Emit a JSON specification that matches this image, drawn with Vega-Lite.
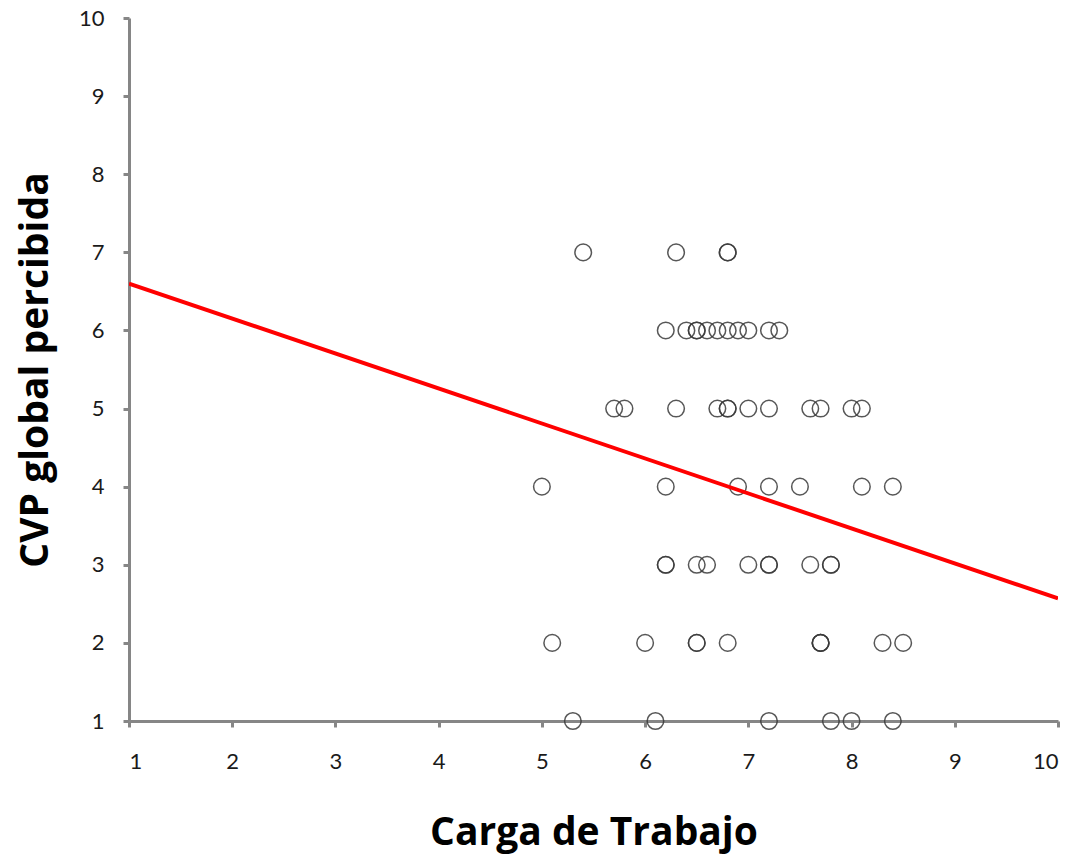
{
  "$schema": "https://vega.github.io/schema/vega-lite/v6.json",
  "width": 929,
  "height": 703,
  "autosize": {"type": "none"},
  "padding": {"left": 129, "top": 18, "right": 21, "bottom": 139},
  "background": "white",
  "config": {
    "view": {"stroke": null},
    "font": "Lato",
    "axis": {
      "grid": false,
      "domainColor": "#868686",
      "domainWidth": 3,
      "tickColor": "#868686",
      "tickWidth": 3,
      "tickSize": 6,
      "labelFont": "Lato",
      "labelFontSize": 22,
      "labelColor": "#1a1a1a",
      "titleFont": "Open Sans",
      "titleFontSize": 39,
      "titleFontWeight": "bold",
      "titleColor": "#000000",
      "titleBaseline": "alphabetic"
    }
  },
  "datasets": {
    "pts": [
      {"x": 5.4, "y": 7}, {"x": 6.3, "y": 7}, {"x": 6.8, "y": 7}, {"x": 6.8, "y": 7},
      {"x": 6.2, "y": 6}, {"x": 6.4, "y": 6}, {"x": 6.5, "y": 6}, {"x": 6.5, "y": 6}, {"x": 6.6, "y": 6}, {"x": 6.7, "y": 6}, {"x": 6.8, "y": 6}, {"x": 6.9, "y": 6}, {"x": 7.0, "y": 6}, {"x": 7.2, "y": 6}, {"x": 7.3, "y": 6},
      {"x": 5.7, "y": 5}, {"x": 5.8, "y": 5}, {"x": 6.3, "y": 5}, {"x": 6.7, "y": 5}, {"x": 6.8, "y": 5}, {"x": 6.8, "y": 5}, {"x": 7.0, "y": 5}, {"x": 7.2, "y": 5}, {"x": 7.6, "y": 5}, {"x": 7.7, "y": 5}, {"x": 8.0, "y": 5}, {"x": 8.1, "y": 5},
      {"x": 5.0, "y": 4}, {"x": 6.2, "y": 4}, {"x": 6.9, "y": 4}, {"x": 7.2, "y": 4}, {"x": 7.5, "y": 4}, {"x": 8.1, "y": 4}, {"x": 8.4, "y": 4},
      {"x": 6.2, "y": 3}, {"x": 6.2, "y": 3}, {"x": 6.5, "y": 3}, {"x": 6.6, "y": 3}, {"x": 7.0, "y": 3}, {"x": 7.2, "y": 3}, {"x": 7.2, "y": 3}, {"x": 7.6, "y": 3}, {"x": 7.8, "y": 3}, {"x": 7.8, "y": 3},
      {"x": 5.1, "y": 2}, {"x": 6.0, "y": 2}, {"x": 6.5, "y": 2}, {"x": 6.5, "y": 2}, {"x": 6.8, "y": 2}, {"x": 7.7, "y": 2}, {"x": 7.7, "y": 2}, {"x": 7.7, "y": 2}, {"x": 8.3, "y": 2}, {"x": 8.5, "y": 2},
      {"x": 5.3, "y": 1}, {"x": 6.1, "y": 1}, {"x": 7.2, "y": 1}, {"x": 7.8, "y": 1}, {"x": 8.0, "y": 1}, {"x": 8.4, "y": 1}
    ],
    "fit": [
      {"x": 1, "y": 6.6},
      {"x": 10, "y": 2.57}
    ]
  },
  "layer": [
    {
      "data": {"name": "pts"},
      "mark": {"type": "point", "shape": "circle", "filled": false, "size": 275, "stroke": "#3a3a3a", "strokeWidth": 1.5, "opacity": 0.85},
      "encoding": {
        "x": {"field": "x", "type": "quantitative", "scale": {"domain": [1, 10], "nice": false, "zero": false}, "axis": {"values": [1,2,3,4,5,6,7,8,9,10], "format": "d", "title": "Carga de Trabajo", "labelPadding": 24, "titleY": 123}},
        "y": {"field": "y", "type": "quantitative", "scale": {"domain": [1, 10], "nice": false, "zero": false}, "axis": {"values": [1,2,3,4,5,6,7,8,9,10], "format": "d", "title": "CVP global percibida", "labelPadding": 19, "titleX": -82}}
      }
    },
    {
      "data": {"name": "fit"},
      "mark": {"type": "line", "color": "#ff0000", "strokeWidth": 4, "clip": true},
      "encoding": {
        "x": {"field": "x", "type": "quantitative"},
        "y": {"field": "y", "type": "quantitative"}
      }
    }
  ]
}
